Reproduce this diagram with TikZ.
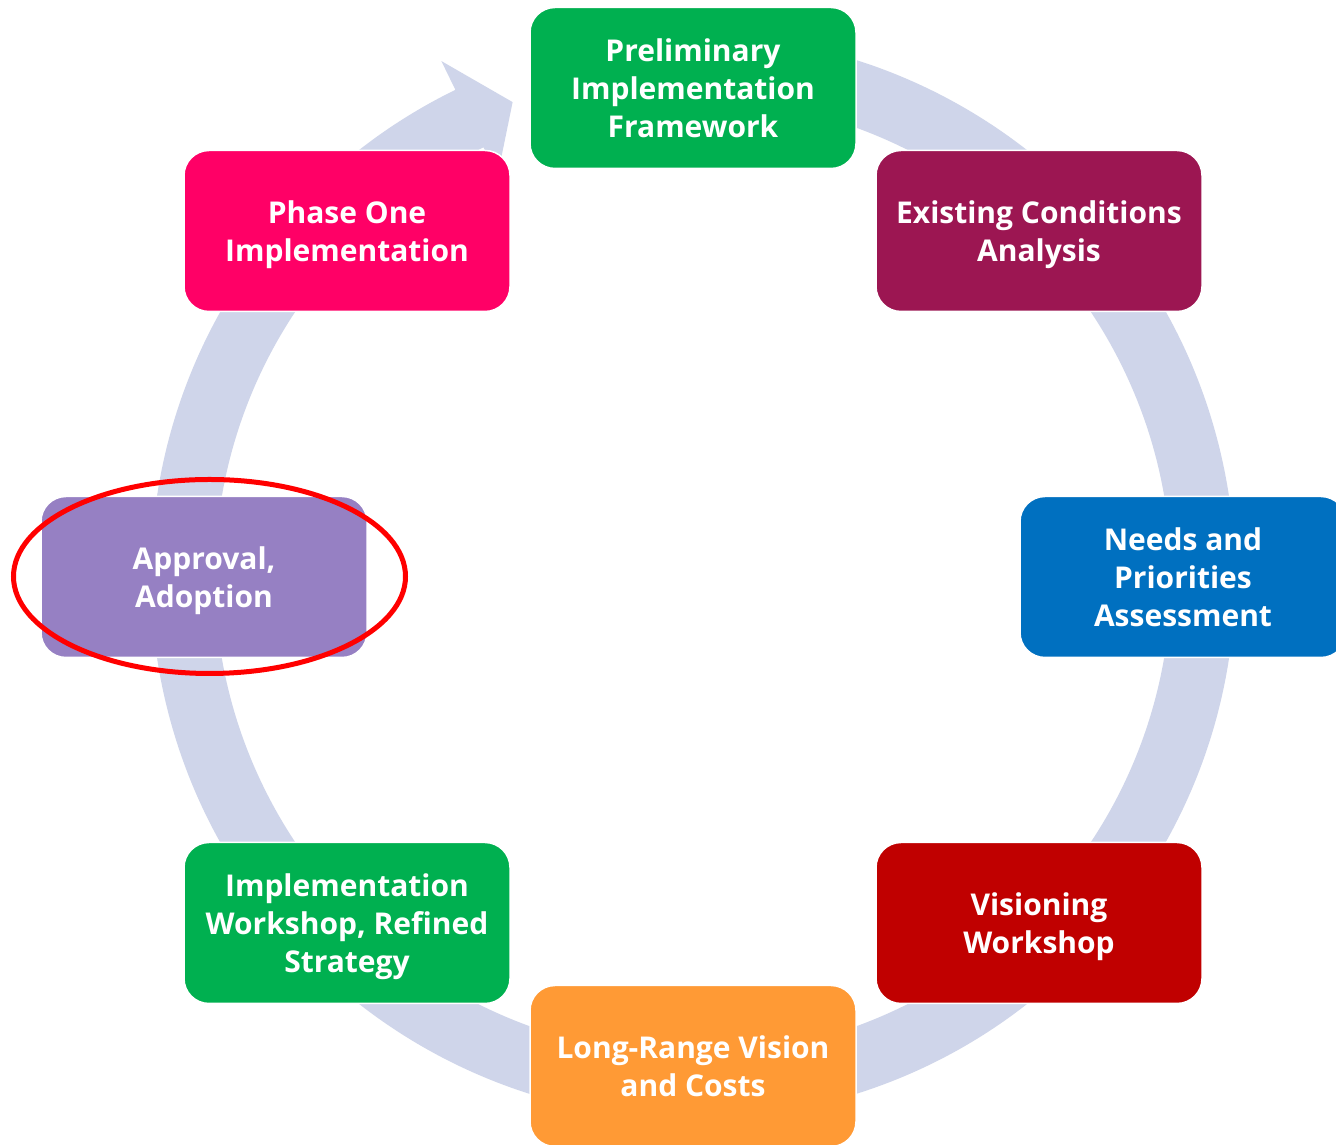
\documentclass[tikz,border=0pt]{standalone}
\usepackage{fontspec}
\setmainfont{Open Sans}
\definecolor{ringc}{HTML}{CFD5EA}
\definecolor{cgreen}{HTML}{00B050}
\definecolor{cplum}{HTML}{9C1652}
\definecolor{cblue}{HTML}{0070C0}
\definecolor{cdred}{HTML}{C00000}
\definecolor{corange}{HTML}{FF9A35}
\definecolor{cviolet}{HTML}{9680C3}
\definecolor{cpink}{HTML}{FF0066}
\definecolor{cred}{HTML}{FF0000}
\begin{document}
\begin{tikzpicture}[x=1pt,y=1pt,
  stage/.style={rounded corners=25pt, minimum width=326pt, minimum height=161pt,
    draw=white, line width=1.5pt, text=white, align=center, inner sep=0pt,
    text depth=0pt, font=\bfseries\fontsize{30}{38}\selectfont}]
\useasboundingbox (0,0) rectangle (1336,1145);
\clip (0,0) rectangle (1336,1145);
\fill[white] (0,0) rectangle (1336,1145);
\begin{scope}[shift={(693,568)}]
\fill[ringc] (104:542pt) arc[start angle=104,end angle=-244,radius=542pt]
  -- (116:574pt) -- (110.8:508pt) -- (116:446pt) -- (116:478pt)
  arc[start angle=116,end angle=464,radius=478pt] -- cycle;
\end{scope}
\node[stage, fill=cgreen] (prelim) at (693,1057) {Preliminary\\Implementation\\Framework};
\node[stage, fill=cplum] (exist) at (1039,914) {Existing Conditions\\Analysis};
\node[stage, fill=cblue] (needs) at (1183,568) {Needs and\\Priorities\\Assessment};
\node[stage, fill=cdred] (vision) at (1039,222) {Visioning\\Workshop};
\node[stage, fill=corange] (longr) at (693,79) {Long-Range Vision\\and Costs};
\node[stage, fill=cgreen] (implw) at (347,222) {Implementation\\Workshop, Refined\\Strategy};
\node[stage, fill=cviolet] (appr) at (204,568) {Approval,\\Adoption};
\node[stage, fill=cpink] (phase) at (347,914) {Phase One\\Implementation};
\draw[cred, line width=5pt] (appr.center) ++(5.5,0.5) ellipse [x radius=196, y radius=97];
\end{tikzpicture}
\end{document}
